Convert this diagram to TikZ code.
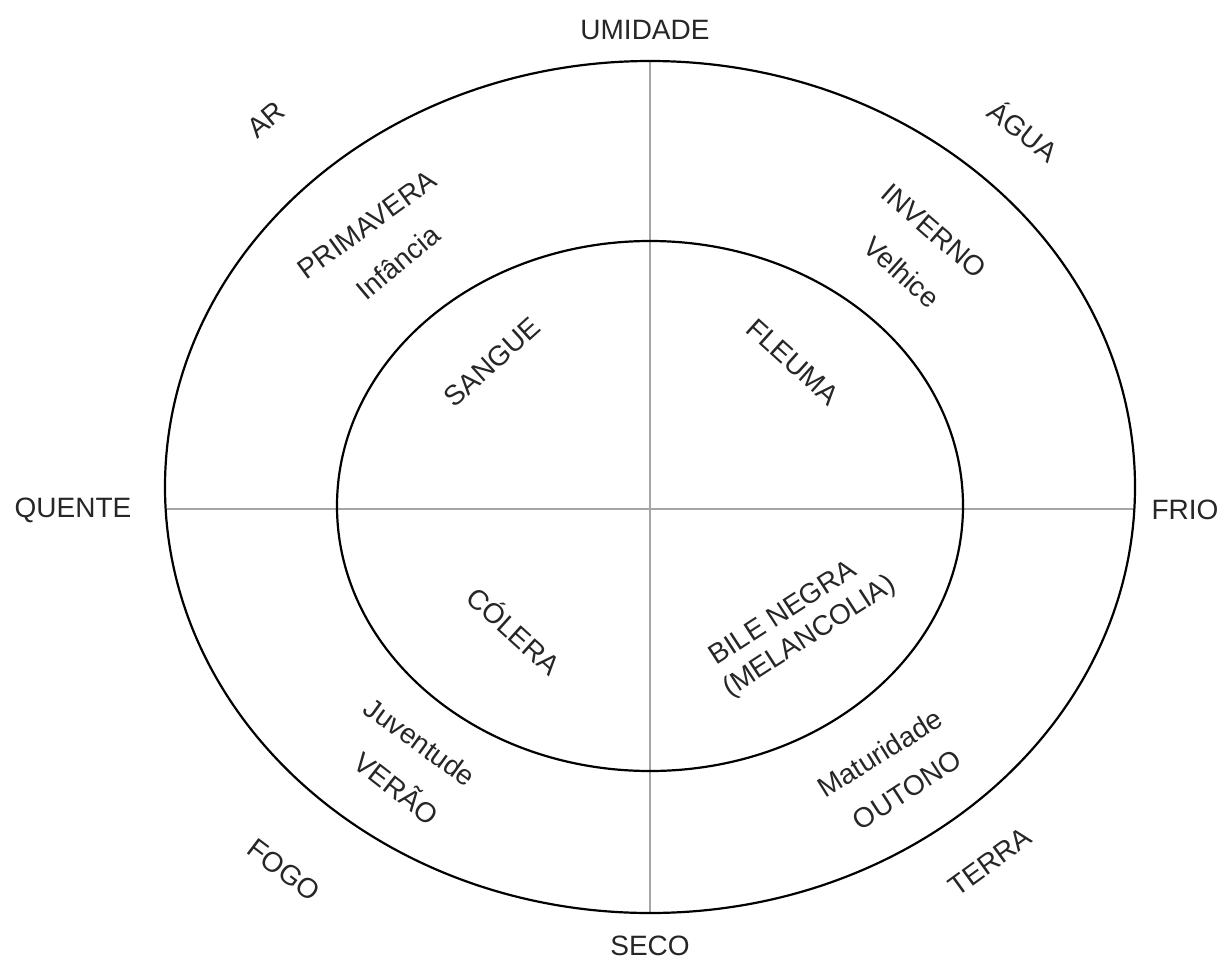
\documentclass[tikz,border=0pt]{standalone}
\usepackage{fontspec}
\setmainfont{Liberation Sans}
\begin{document}
\begin{tikzpicture}[x=0.5pt,y=-0.5pt,
  axis/.style={draw=black!35, line width=0.8pt},
  ring/.style={draw=black, line width=1.1pt},
  lbl/.style={font=\fontsize{14}{16}\selectfont, inner sep=0pt, text=black!85}]
\useasboundingbox (0,0) rectangle (1228,964);
\coordinate (C) at (650,487);
\coordinate (Ci) at (650,506);
\coordinate (T) at (650,61);
\coordinate (B) at (650,913);
\coordinate (L) at (167,509);
\coordinate (R) at (1135,509);
\draw[axis] (T) -- (B);
\draw[axis] (L) -- (R);
\draw[ring] (C) ellipse [x radius=242.5pt, y radius=213pt];
\draw[ring] (Ci) ellipse [x radius=156.5pt, y radius=132.5pt];
% cardinal labels
\node[lbl] (umidade) at (645,30) {UMIDADE};
\node[lbl] (seco) at (650,946) {SECO};
\node[lbl] (quente) at (73,510) {QUENTE};
\node[lbl] (frio) at (1185,510) {FRIO};
% elements
\node[lbl, rotate=40] (ar) at (266,120) {AR};
\node[lbl, rotate=-38] (agua) at (1024,130) {ÁGUA};
\node[lbl, rotate=-37] (fogo) at (284,870) {FOGO};
\node[lbl, rotate=36] (terra) at (990,862) {TERRA};
% seasons and ages
\node[lbl, rotate=36] (primavera) at (367,225) {PRIMAVERA};
\node[lbl, rotate=40] (infancia) at (398,262) {Infância};
\node[lbl, rotate=-41] (inverno) at (934,231) {INVERNO};
\node[lbl, rotate=-42] (velhice) at (902,272) {Velhice};
\node[lbl, rotate=-36] (juventude) at (420,742) {Juventude};
\node[lbl, rotate=-38] (verao) at (398,787) {VERÃO};
\node[lbl, rotate=32] (maturidade) at (880,753) {Maturidade};
\node[lbl, rotate=33] (outono) at (907,790) {OUTONO};
% humours
\node[lbl, rotate=42] (sangue) at (492,362) {SANGUE};
\node[lbl, rotate=-42] (fleuma) at (793,362) {FLEUMA};
\node[lbl, rotate=-42] (colera) at (515,630) {CÓLERA};
\node[lbl, rotate=33] (bile) at (782,612) {BILE NEGRA};
\node[lbl, rotate=33] (melancolia) at (810,637) {(MELANCOLIA)};
\end{tikzpicture}
\end{document}
